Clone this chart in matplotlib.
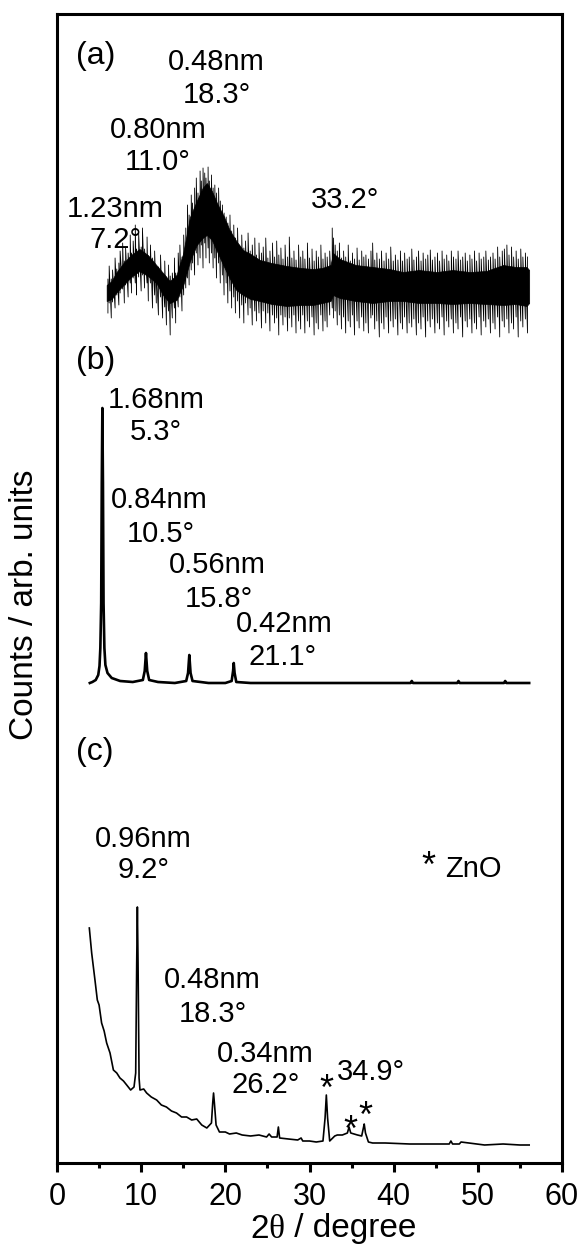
import matplotlib
matplotlib.use("Agg")
import matplotlib.pyplot as plt
from matplotlib.offsetbox import TextArea, HPacker, AnnotationBbox

plt.rcParams['font.family'] = ['Liberation Sans', 'DejaVu Sans']

# ---------------- data ----------------
# trace (a): dense noisy pattern -> core band + individual excursions
a_x = [5.9, 6.5, 7.0, 7.9, 8.8, 9.8, 10.8, 11.8, 12.6, 13.4, 14.2, 15.0, 15.8, 16.6,
       17.3, 17.8, 18.4, 19.0, 19.8, 20.5, 21.3, 22.1, 23.0, 24.1, 25.5, 27.3, 29.0,
       30.4, 31.5, 32.5, 32.8, 33.6, 35.5, 37.5, 39.5, 41.1, 43.0, 45.1, 47.0, 49.0,
       51.0, 53.0, 54.5, 55.8, 56.1]
a_lo = [862, 864, 870, 878, 886, 892, 887, 880, 868, 860, 863, 878, 902, 918,
        925, 928, 923, 912, 897, 885, 873, 868, 864, 862, 859, 857, 858,
        858, 860, 862, 868, 865, 862, 860, 862, 862, 860, 860, 859, 860,
        859, 858, 859, 857, 860]
a_hi = [878, 882, 890, 900, 908, 914, 908, 898, 890, 882, 888, 910, 946, 962,
        975, 980, 972, 960, 947, 933, 922, 913, 909, 903, 900, 897, 895,
        894, 895, 898, 910, 904, 898, 896, 894, 891, 893, 891, 893, 891,
        892, 898, 896, 896, 893]
n_x = [6.05, 6.2, 6.45, 6.6, 6.9, 7.1, 7.35, 7.5, 7.8, 8.0, 8.15, 8.45, 8.7, 8.85,
       9.05, 9.3, 9.45, 9.7, 10.0, 10.15, 10.4, 10.7, 10.85, 11.1, 11.35, 11.6, 11.8,
       12.05, 12.3, 12.55, 12.8, 13.0, 13.25, 13.45, 13.7, 13.95, 14.1, 14.4, 14.6,
       14.85, 15.05, 15.3, 15.5, 15.7, 15.95, 16.1, 16.35, 16.55, 16.75, 17.0, 17.15,
       17.35, 17.55, 17.7, 17.95, 18.1, 18.35, 18.55, 18.75, 18.95, 19.2, 19.4, 19.65,
       19.85, 20.1, 20.3, 20.55, 20.75, 21.0, 21.2, 21.45, 21.7, 21.95, 22.2, 22.4,
       22.7, 22.95, 23.2, 23.5, 23.7, 24.0, 24.3, 24.5, 24.8, 25.05, 25.3, 25.6, 25.85,
       26.1, 26.35, 26.6, 26.85, 27.1, 27.4, 27.6, 27.9, 28.15, 28.4, 28.7, 28.95,
       29.2, 29.45, 29.75, 30.0, 30.3, 30.55, 30.8, 31.05, 31.35, 31.6, 31.85, 32.1,
       32.4, 32.7, 32.85, 33.05, 33.3, 33.55, 33.8, 34.05, 34.3, 34.6, 34.85, 35.1,
       35.35, 35.65, 35.9, 36.2, 36.45, 36.7, 37.0, 37.3, 37.5, 37.75, 38.0, 38.3,
       38.55, 38.85, 39.1, 39.4, 39.65, 39.95, 40.2, 40.5, 40.8, 41.05, 41.3, 41.6,
       41.85, 42.15, 42.4, 42.7, 42.95, 43.25, 43.5, 43.8, 44.05, 44.35, 44.6, 44.9,
       45.2, 45.45, 45.75, 46.0, 46.3, 46.55, 46.85, 47.1, 47.4, 47.65, 47.95, 48.2,
       48.5, 48.75, 49.05, 49.3, 49.6, 49.85, 50.15, 50.4, 50.7, 50.95, 51.25, 51.5,
       51.8, 52.05, 52.35, 52.6, 52.9, 53.15, 53.45, 53.7, 54.0, 54.25, 54.55, 54.8,
       55.1, 55.35, 55.65, 55.9]
n_lo = [850, 860, 845, 861, 855, 868, 858, 870, 874, 860, 878, 866, 880, 870,
        885, 880, 868, 886, 872, 888, 875, 880, 862, 880, 855, 868, 860,
        848, 866, 845, 856, 838, 852, 828, 845, 855, 840, 856, 866,
        852, 868, 875, 885, 878, 893, 900, 888, 910, 898, 905, 918,
        895, 920, 905, 915, 900, 910, 895, 905, 885, 900, 880, 888,
        868, 880, 860, 872, 855, 866, 850, 862, 845, 858, 840, 860,
        848, 855, 838, 852, 842, 850, 835, 852, 840, 850, 832, 848, 840,
        845, 828, 848, 838, 846, 832, 845, 836, 848, 830, 842, 834,
        848, 830, 842, 836, 846, 828, 840, 834, 848, 832, 842, 836,
        848, 855, 845, 852, 838, 848, 834, 846, 830, 842, 836, 848,
        828, 842, 835, 846, 832, 840, 830, 845, 848, 834, 842, 826,
        840, 834, 846, 830, 842, 836, 844, 828, 840, 834, 846, 830,
        840, 836, 844, 828, 840, 834, 846, 826, 842, 836, 844, 830,
        840, 834, 846, 828, 842, 836, 844, 830, 840, 834, 846, 826,
        842, 836, 844, 830, 840, 834, 846, 828, 842, 836, 844, 830,
        840, 834, 846, 826, 842, 836, 844, 830, 840, 834, 846, 826,
        842, 836, 844, 830]
n_hi = [884, 897, 884, 893, 905, 894, 900, 912, 920, 902, 915, 910, 928, 910,
        922, 938, 914, 930, 916, 935, 914, 926, 906, 918, 905, 912, 896,
        896, 908, 888, 902, 886, 898, 887, 890, 905, 890, 910, 918,
        906, 928, 935, 958, 948, 968, 960, 975, 985, 970, 992, 982,
        995, 990, 985, 996, 982, 988, 975, 978, 970, 975, 962, 958,
        950, 946, 940, 948, 932, 938, 925, 935, 918, 928, 915, 922,
        930, 912, 918, 925, 908, 920, 910, 916, 925, 905, 912, 920, 906,
        922, 908, 915, 904, 918, 906, 926, 905, 912, 903, 918, 906,
        912, 904, 920, 905, 914, 902, 912, 906, 918, 904, 910, 906,
        912, 935, 925, 918, 912, 920, 905, 912, 906, 918, 902, 910,
        904, 915, 903, 912, 906, 908, 904, 912, 920, 903, 910, 904,
        912, 902, 910, 904, 916, 902, 908, 903, 912, 902, 910, 904,
        906, 914, 903, 906, 912, 902, 910, 904, 908, 913, 903, 906,
        910, 902, 912, 904, 908, 902, 912, 906, 904, 912, 903, 906,
        910, 902, 908, 904, 912, 902, 910, 904, 906, 912, 903, 906,
        910, 904, 916, 906, 912, 914, 918, 908, 916, 906, 912, 904,
        914, 906, 910, 906]

# trace (b)
b_x = [3.9, 4.2, 4.6, 4.9, 5.05, 5.15, 5.25, 5.32, 5.39, 5.46, 5.53, 5.63, 5.75, 6.0,
       6.5, 7.5, 9.0, 10.2, 10.42, 10.57, 10.72, 10.95, 12.0, 14.0, 15.35, 15.57, 15.72,
       15.87, 16.1, 18.0, 20.0, 20.75, 20.92, 21.0, 21.1, 21.3, 23.0, 26.0, 30.0, 35.0,
       40.0, 42.0, 42.15, 42.3, 45.0, 47.55, 47.7, 47.85, 50.0, 53.1, 53.25, 53.4, 56.1]
b_y = [480, 481, 483, 488, 497, 515, 560, 680, 755, 680, 560, 515, 498, 490,
       485, 482, 481, 483, 492, 510, 492, 483, 481, 480, 482, 490, 508,
       490, 482, 480, 480, 482, 492, 500, 490, 481, 480, 480, 480, 480,
       480, 480, 482, 480, 480, 480, 482, 480, 480, 480, 482, 480, 480]

# trace (c)
c_x = [3.84, 4.12, 4.51, 4.79, 5.0, 5.3, 5.6, 5.9, 6.3, 6.7, 7.1, 7.48, 7.9, 8.28, 8.75,
       9.15, 9.35, 9.47, 9.55, 9.63, 9.75, 9.86, 10.3, 10.65, 11.2, 11.84, 12.4, 13.0,
       13.6, 14.2, 14.8, 15.4, 16.0, 16.6, 17.2, 17.8, 18.35, 18.5, 18.6, 18.7, 18.9,
       19.3, 20.0, 20.5, 21.3, 22.0, 23.0, 24.0, 24.9, 25.2, 25.5, 26.15, 26.3, 26.45,
       27.5, 28.6, 29.0, 29.2, 30.0, 30.8, 31.6, 31.85, 32.0, 32.15, 32.4, 33.0, 33.3,
       33.9, 34.5, 34.7, 34.9, 35.7, 36.2, 36.4, 36.5, 36.65, 37.0, 37.5, 39.0, 41.9,
       44.0, 46.6, 46.8, 47.0, 47.8, 48.0, 50.8, 53.0, 55.0, 56.1]
c_y = [235, 210, 183, 163, 158, 140, 132, 120, 110, 93, 90, 85, 82, 78, 73,
       76, 90, 200, 256, 200, 85, 73, 74, 70, 66, 63, 58, 56,
       52, 50, 46, 46, 43, 44, 38, 35, 40, 60, 70, 60, 38,
       31, 31, 29, 30, 28, 27, 28, 26, 29, 26, 26, 36, 25,
       24, 23, 25, 22, 22, 21, 22, 45, 68, 45, 22, 27, 28,
       28, 30, 36, 30, 28, 27, 35, 39, 30, 21, 20, 20, 19,
       19, 19, 22, 19, 19, 21, 18, 19, 18, 18]

x_major = [0, 10, 20, 30, 40, 50, 60]
x_minor = [5, 15, 25, 35, 45, 55]

# panel letters: (text, x, y)
panels = [("(a)", 2.2, 1099), ("(b)", 2.2, 794), ("(c)", 2.2, 403)]
# annotations: (text, x in degree units, y in arb. units, horizontal alignment)
labels = [
    ("0.48nm", 18.9, 1093, "center"), ("18.3°", 19.0, 1060, "center"),
    ("0.80nm", 12.0, 1025, "center"), ("11.0°", 12.0, 993, "center"),
    ("1.23nm", 6.9, 946, "center"), ("7.2°", 6.9, 915, "center"),
    ("33.2°", 34.2, 955, "center"),
    ("1.68nm", 11.8, 755, "center"), ("5.3°", 11.8, 723, "center"),
    ("0.84nm", 12.2, 655, "center"), ("10.5°", 12.35, 621, "center"),
    ("0.56nm", 19.1, 590, "center"), ("15.8°", 19.2, 556, "center"),
    ("0.42nm", 27.0, 531, "center"), ("21.1°", 26.8, 498, "center"),
    ("0.96nm", 10.2, 316, "center"), ("9.2°", 10.3, 285, "center"),
    ("0.48nm", 18.4, 175, "center"), ("18.3°", 18.5, 141, "center"),
    ("0.34nm", 24.8, 101, "center"), ("26.2°", 24.8, 70, "center"),
    ("34.9°", 37.3, 83, "center"),
    ("ZnO", 46.1, 286, "left"),
]
stars_x = [32.0, 34.85, 36.6, 44.1]
stars_y = [63, 22, 36, 286]

# ---------------- figure ----------------
W, H = 584, 1247
fig = plt.figure(figsize=(W / 100, H / 100), dpi=100)
L, R, T, B = 57, 562, 14, 1163
ax = fig.add_axes([L / W, 1 - B / H, (R - L) / W, (B - T) / H])
ax.set_xlim(0, 60)
ax.set_ylim(0, 1149)

# trace (a): core band plus a zig-zag through the noise extremes
ax.fill_between(a_x, a_lo, a_hi, color='black', lw=0.5)
zx, zy = [], []
for x, lo, hi in zip(n_x, n_lo, n_hi):
    zx += [x, x]
    zy += [lo, hi]
ax.plot(zx, zy, color='black', lw=0.6)

ax.plot(b_x, b_y, color='black', lw=1.9, solid_joinstyle='round')
ax.plot(c_x, c_y, color='black', lw=1.2)

for txt, x, y in panels:
    ax.text(x, y, txt, fontsize=23, ha='left', va='baseline')
for txt, x, y, ha in labels:
    ax.text(x, y, txt, fontsize=21, ha=ha, va='baseline')
for x, y in zip(stars_x, stars_y):
    ax.text(x, y, "*", fontsize=26, ha='center', va='baseline')

for s in ax.spines.values():
    s.set_linewidth(2.2)
ax.set_xticks(x_major)
ax.set_xticks(x_minor, minor=True)
ax.set_yticks([])
ax.tick_params(axis='x', which='major', direction='out', length=6.5, width=2.2,
               labelsize=22, pad=7)
ax.tick_params(axis='x', which='minor', direction='out', length=3.5, width=2.2)

fig.text(25 / W, 1 - 605 / H, "Counts / arb. units", rotation=90, fontsize=24,
         ha='center', va='center')

parts = [TextArea("2", textprops=dict(fontsize=24, family='Liberation Sans')),
         TextArea("θ", textprops=dict(fontsize=24, family='Liberation Serif')),
         TextArea(" / degree", textprops=dict(fontsize=24, family='Liberation Sans'))]
box = HPacker(children=parts, align='baseline', pad=0, sep=0)
ab = AnnotationBbox(box, (333 / W, 1 - 1229 / H), xycoords='figure fraction',
                    frameon=False, box_alignment=(0.5, 0.5), pad=0)
fig.add_artist(ab)

fig.savefig("out.png", dpi=100)
